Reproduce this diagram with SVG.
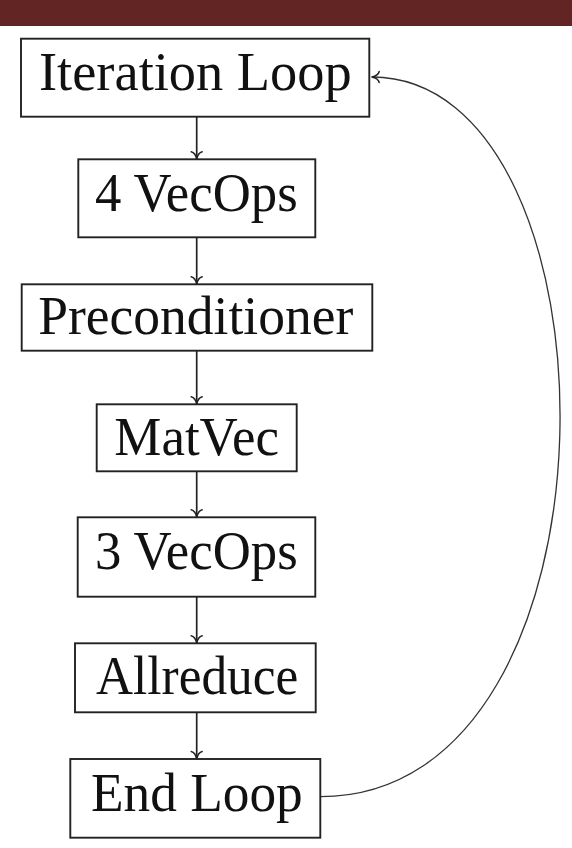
<svg xmlns="http://www.w3.org/2000/svg" width="572" height="848" viewBox="0 0 572 848">
  <style>
    .box { fill: #ffffff; stroke: #222222; stroke-width: 1.9; }
    .label { font-family: "Liberation Serif", "DejaVu Serif", serif; font-size: 54px; fill: #111111; }
    .flow { stroke: #222222; stroke-width: 1.7; fill: none; }
    .back { stroke: #333333; stroke-width: 1.3; fill: none; }
  </style>
  <defs>
    <marker id="tip" markerUnits="userSpaceOnUse" markerWidth="20" markerHeight="20" viewBox="-10 -10 20 20" refX="0" refY="0" orient="auto" overflow="visible">
      <path d="M -7.5 -5.5 C -6.8 -2.3 -3 -0.6 0 0 C -3 0.6 -6.8 2.3 -7.5 5.5" fill="none" stroke="#222222" stroke-width="1.5" stroke-linecap="round"/>
    </marker>
  </defs>

  <!-- header band -->
  <rect x="0" y="0" width="572" height="26" fill="#632424"/>

  <!-- connectors -->
  <g id="connectors">
    <path class="flow" d="M 196.7 116.7 L 196.7 159.3" marker-end="url(#tip)"/>
    <path class="flow" d="M 196.7 237.3 L 196.7 284.3" marker-end="url(#tip)"/>
    <path class="flow" d="M 196.7 350.7 L 196.7 404.3" marker-end="url(#tip)"/>
    <path class="flow" d="M 196.7 471.3 L 196.7 517.3" marker-end="url(#tip)"/>
    <path class="flow" d="M 196.7 596.7 L 196.7 643.3" marker-end="url(#tip)"/>
    <path class="flow" d="M 196.7 712.3 L 196.7 759" marker-end="url(#tip)"/>
    <path class="back" d="M 320.3 796.7 C 635 796.7 627 77 371.7 77" marker-end="url(#tip)"/>
  </g>

  <!-- nodes -->
  <g id="iteration-loop">
    <rect class="box" x="21" y="38.7" width="348.3" height="78"/>
    <text class="label" x="39" y="90" textLength="312.7" lengthAdjust="spacingAndGlyphs">Iteration Loop</text>
  </g>
  <g id="vecops-4">
    <rect class="box" x="78.3" y="159.3" width="237" height="78"/>
    <text class="label" x="95" y="211" textLength="202.7" lengthAdjust="spacingAndGlyphs">4 VecOps</text>
  </g>
  <g id="preconditioner">
    <rect class="box" x="21.7" y="284.3" width="350.6" height="66.4"/>
    <text class="label" x="38.3" y="334" textLength="315" lengthAdjust="spacingAndGlyphs">Preconditioner</text>
  </g>
  <g id="matvec">
    <rect class="box" x="96.7" y="404.3" width="200" height="67"/>
    <text class="label" x="114.3" y="455" textLength="164.7" lengthAdjust="spacingAndGlyphs">MatVec</text>
  </g>
  <g id="vecops-3">
    <rect class="box" x="77.7" y="517.3" width="237.6" height="79.4"/>
    <text class="label" x="95" y="569.3" textLength="202.7" lengthAdjust="spacingAndGlyphs">3 VecOps</text>
  </g>
  <g id="allreduce">
    <rect class="box" x="75" y="643.3" width="240.7" height="69"/>
    <text class="label" x="96" y="694" textLength="202.3" lengthAdjust="spacingAndGlyphs">Allreduce</text>
  </g>
  <g id="end-loop">
    <rect class="box" x="70.3" y="759" width="250" height="78.7"/>
    <text class="label" x="91" y="810.7" textLength="211.7" lengthAdjust="spacingAndGlyphs">End Loop</text>
  </g>
</svg>
